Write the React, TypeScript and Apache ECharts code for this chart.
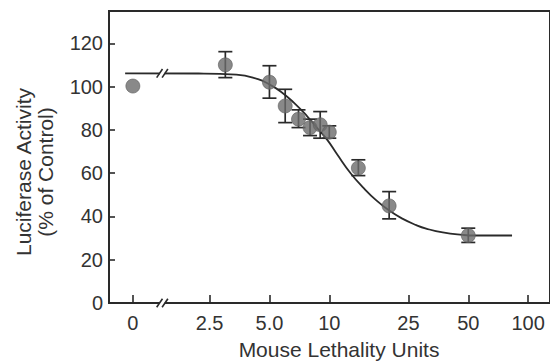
import React, { useEffect, useRef } from "react";
import * as echarts from "echarts";

// Axis ticks
const tickDoses = [0, 2.5, 5, 10, 25, 50, 100];
const tickLabels = ["0", "2.5", "5.0", "10", "25", "50", "100"];
const yTicks = [0, 20, 40, 60, 80, 100, 120];

// Measured points (dose in mouse lethality units, % of control)
const pointDoses = [0, 3, 5, 6, 7, 8, 9, 10, 14, 20, 50];
const pointMeans = [100.3, 110.1, 102.1, 91.1, 85.0, 81.1, 82.4, 79.0, 62.4, 44.9, 31.2];
const errLow = [100.3, 104.2, 94.7, 83.4, 81.1, 77.4, 76.2, 76.2, 58.9, 38.9, 28.0];
const errHigh = [100.3, 116.2, 109.7, 98.8, 89.3, 85.0, 88.5, 81.9, 66.2, 51.5, 34.6];

// Fitted curve
const fitDoses = [0.94, 2.2, 3.41, 4.38, 5.0, 5.71, 6.67, 7.76, 8.71, 9.77, 10.9, 12.8, 14.9, 17.3, 20.1, 23.3, 27.4, 30.7, 37.2, 46.8, 54.5, 83];
const fitValues = [106.2, 106.1, 105.6, 103.5, 101.0, 97.7, 92.4, 86.2, 80.8, 75.4, 69.0, 60.0, 53.1, 47.3, 42.6, 39.0, 36.0, 34.4, 32.6, 31.5, 31.2, 31.2];

const ZERO_POS = 0.012; // axis position of the "0" category (left of the break)
const BREAK_POS = 0.16; // axis position of the "//" break
const X_MIN = -0.108;
const X_MAX = 2.11;

const pos = (d: number) => (d === 0 ? ZERO_POS : Math.log10(d));

const FONT = '"Liberation Sans", Arial, Helvetica, sans-serif';
const INK = "#2a2a2a";
const TEXT = "#333333";

export default function App() {
  const ref = useRef<HTMLDivElement>(null);

  useEffect(() => {
    document.body.style.margin = "0";
    if (!ref.current) return;
    const chart = echarts.init(ref.current, undefined, { renderer: "svg" });

    const tickPositions = tickDoses.map(pos);
    const labelFor = (v: number) => {
      let best = 0;
      let bd = Infinity;
      tickPositions.forEach((p, i) => {
        const dd = Math.abs(p - v);
        if (dd < bd) {
          bd = dd;
          best = i;
        }
      });
      return bd < 1e-3 ? tickLabels[best] : "";
    };

    const option: any = {
      animation: false,
      grid: {
        left: 109,
        right: -5,
        top: 11,
        bottom: 58,
        show: true,
        borderColor: INK,
        borderWidth: 2,
        backgroundColor: "transparent",
      },
      xAxis: {
        type: "value",
        min: X_MIN,
        max: X_MAX,
        axisLine: { show: true, onZero: false, lineStyle: { color: INK, width: 2 } },
        axisTick: {
          show: true,
          inside: true,
          length: 8,
          customValues: tickPositions,
          lineStyle: { color: INK, width: 1.6 },
        },
        axisLabel: {
          show: true,
          customValues: tickPositions,
          formatter: (v: number) => labelFor(v),
          fontSize: 20,
          fontFamily: FONT,
          color: TEXT,
          margin: 10,
        },
        splitLine: { show: false },
      },
      yAxis: {
        type: "value",
        min: 0,
        max: 135,
        axisLine: { show: true, onZero: false, lineStyle: { color: INK, width: 2 } },
        axisTick: {
          show: true,
          inside: true,
          length: 6,
          customValues: yTicks,
          lineStyle: { color: INK, width: 1.6 },
        },
        axisLabel: {
          show: true,
          customValues: yTicks,
          fontSize: 20,
          fontFamily: FONT,
          color: TEXT,
          margin: 6,
        },
        splitLine: { show: false },
      },
      series: [
        {
          type: "line",
          data: fitDoses.map((d, i) => [pos(d), fitValues[i]]),
          smooth: true,
          showSymbol: false,
          symbol: "none",
          lineStyle: { color: INK, width: 1.8 },
          z: 2,
        },
        {
          type: "custom",
          data: pointDoses.map((d, i) => [pos(d), pointMeans[i], errLow[i], errHigh[i]]),
          encode: { x: 0, y: 1 },
          z: 3,
          renderItem: (params: any, api: any) => {
            const x = api.value(0);
            const lo = api.value(2);
            const hi = api.value(3);
            if (hi - lo < 0.5) return null;
            const pLo = api.coord([x, lo]);
            const pHi = api.coord([x, hi]);
            const hw = 7;
            const style = { stroke: INK, lineWidth: 1.7 };
            return {
              type: "group",
              children: [
                { type: "line", shape: { x1: pLo[0], y1: pLo[1], x2: pHi[0], y2: pHi[1] }, style },
                { type: "line", shape: { x1: pLo[0] - hw, y1: pLo[1], x2: pLo[0] + hw, y2: pLo[1] }, style },
                { type: "line", shape: { x1: pHi[0] - hw, y1: pHi[1], x2: pHi[0] + hw, y2: pHi[1] }, style },
              ],
            };
          },
        },
        {
          type: "scatter",
          data: pointDoses.map((d, i) => [pos(d), pointMeans[i]]),
          symbol: "circle",
          symbolSize: 14,
          itemStyle: { color: "#6b6b6b", borderColor: "#5e5e5e", borderWidth: 0.8 },
          z: 4,
        },
      ],
    };
    chart.setOption(option);

    const breakMark = (cx: number, cy: number) => [
      {
        type: "rect",
        shape: { x: cx - 2.4, y: cy - 2, width: 4.8, height: 4 },
        style: { fill: "#ffffff" },
        z: 100,
      },
      {
        type: "line",
        shape: { x1: cx - 5.6, y1: cy + 4.3, x2: cx + 0.2, y2: cy - 4.3 },
        style: { stroke: INK, lineWidth: 1.6 },
        z: 101,
      },
      {
        type: "line",
        shape: { x1: cx - 0.2, y1: cy + 4.3, x2: cx + 5.6, y2: cy - 4.3 },
        style: { stroke: INK, lineWidth: 1.6 },
        z: 101,
      },
    ];

    const pAxis = chart.convertToPixel({ gridIndex: 0 }, [BREAK_POS, 0]) as number[];
    const pCurve = chart.convertToPixel({ gridIndex: 0 }, [BREAK_POS, fitValues[0]]) as number[];

    chart.setOption({
      graphic: [
        ...breakMark(pAxis[0], pAxis[1]),
        ...breakMark(pCurve[0], pCurve[1]),
        {
          type: "text",
          x: 339,
          y: 349,
          z: 100,
          style: {
            text: "Mouse Lethality Units",
            fontSize: 21,
            fontFamily: FONT,
            fill: TEXT,
            align: "center",
            verticalAlign: "middle",
            textAlign: "center",
            textVerticalAlign: "middle",
          },
        },
        {
          type: "text",
          x: 34,
          y: 172,
          rotation: Math.PI / 2,
          z: 100,
          style: {
            text: "Luciferase Activity\n(% of Control)",
            fontSize: 21,
            lineHeight: 22,
            fontFamily: FONT,
            fill: TEXT,
            align: "center",
            verticalAlign: "middle",
            textAlign: "center",
            textVerticalAlign: "middle",
          },
        },
      ],
    });

    return () => chart.dispose();
  }, []);

  return <div ref={ref} style={{ width: 550, height: 361 }} />;
}
